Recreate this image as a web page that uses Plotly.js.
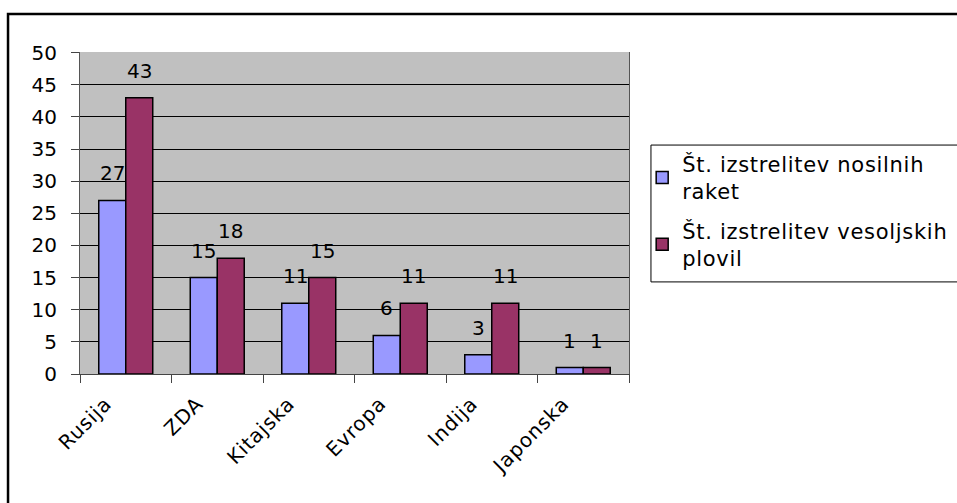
<!DOCTYPE html>
<html><head><meta charset="utf-8">
<script src="https://cdn.plot.ly/plotly-3.0.1.min.js"></script>
<style>html,body{margin:0;padding:0;background:#fff;}#chart{width:957px;height:503px;}
#chart .legendtext{letter-spacing:0.7px;}
#chart .legend .scrollbox{clip-path:none !important;}
#chart .xtick text{letter-spacing:0.9px;}
</style>
</head><body><div id="chart"></div>
<script>
const categories = ["Rusija", "ZDA", "Kitajska", "Evropa", "Indija", "Japonska"];
const nosilneRakete = [27, 15, 11, 6, 3, 1];
const vesoljskaPlovila = [43, 18, 15, 11, 11, 1];
const seriesNames = ["Št. izstrelitev nosilnih<br>raket", "Št. izstrelitev vesoljskih<br>plovil"];
const yTicks = [0, 5, 10, 15, 20, 25, 30, 35, 40, 45, 50];

const font = {family: "DejaVu Sans, sans-serif", size: 20, color: "#000"};
const legendFont = {family: "DejaVu Sans, sans-serif", size: 21, color: "#000"};
const traces = [
  {type: "bar", x: categories, y: nosilneRakete, name: seriesNames[0], legendgroup: "a",
   marker: {color: "#9999FF", line: {color: "#000", width: 1.5}}},
  {type: "bar", x: categories, y: vesoljskaPlovila, name: seriesNames[1], legendgroup: "b",
   marker: {color: "#993366", line: {color: "#000", width: 1.5}}}
];
// value labels above bars, built from the data arrays
const annotations = [];
[[nosilneRakete, -13.5], [vesoljskaPlovila, 13.5]].forEach(([vals, dx]) => {
  vals.forEach((v, i) => annotations.push({
    x: categories[i], y: v, xref: "x", yref: "y", text: String(v), showarrow: false,
    xanchor: "center", yanchor: "middle", xshift: dx, yshift: 27, font: font
  }));
});
const layout = {
  width: 957, height: 503,
  margin: {l: 80, r: 328, t: 52, b: 129},
  paper_bgcolor: "#fff", plot_bgcolor: "#C0C0C0",
  font: font,
  barmode: "group", bargap: 0.41, bargroupgap: 0,
  showlegend: true,
  legend: {x: 1.024, xanchor: "left", y: 0.715, yanchor: "top",
           bgcolor: "rgba(0,0,0,0)", borderwidth: 0,
           font: legendFont, tracegroupgap: 9, traceorder: "grouped"},
  xaxis: {type: "category", tickangle: -45, ticks: "outside", tickson: "boundaries",
          ticklen: 8, tickcolor: "#444", showline: true, linecolor: "#444", linewidth: 1,
          showgrid: false, tickfont: font, automargin: false,
          ticklabelshift: -20, ticklabelstandoff: 9},
  yaxis: {range: [0, 50.1], tickvals: yTicks, ticks: "outside", ticklen: 8, tickcolor: "#444",
          showline: true, linecolor: "#555", linewidth: 1, mirror: true,
          showgrid: true, gridcolor: "#000", gridwidth: 1, zeroline: false,
          tickfont: font, automargin: false, ticklabelstandoff: 10},
  annotations: annotations,
  shapes: [
    {type: "rect", xref: "paper", yref: "paper", x0: -0.1311, x1: 1.6, y0: -0.5, y1: 1.118,
     line: {color: "#000", width: 2.5}, fillcolor: "rgba(0,0,0,0)", layer: "below"},
    {type: "rect", xref: "paper", yref: "paper", x0: 1.040, x1: 1.8, y0: 0.286, y1: 0.711,
     line: {color: "#000", width: 1}, fillcolor: "#fff", layer: "below"}
  ]
};
Plotly.newPlot("chart", traces, layout, {displayModeBar: false, staticPlot: true});
</script></body></html>
